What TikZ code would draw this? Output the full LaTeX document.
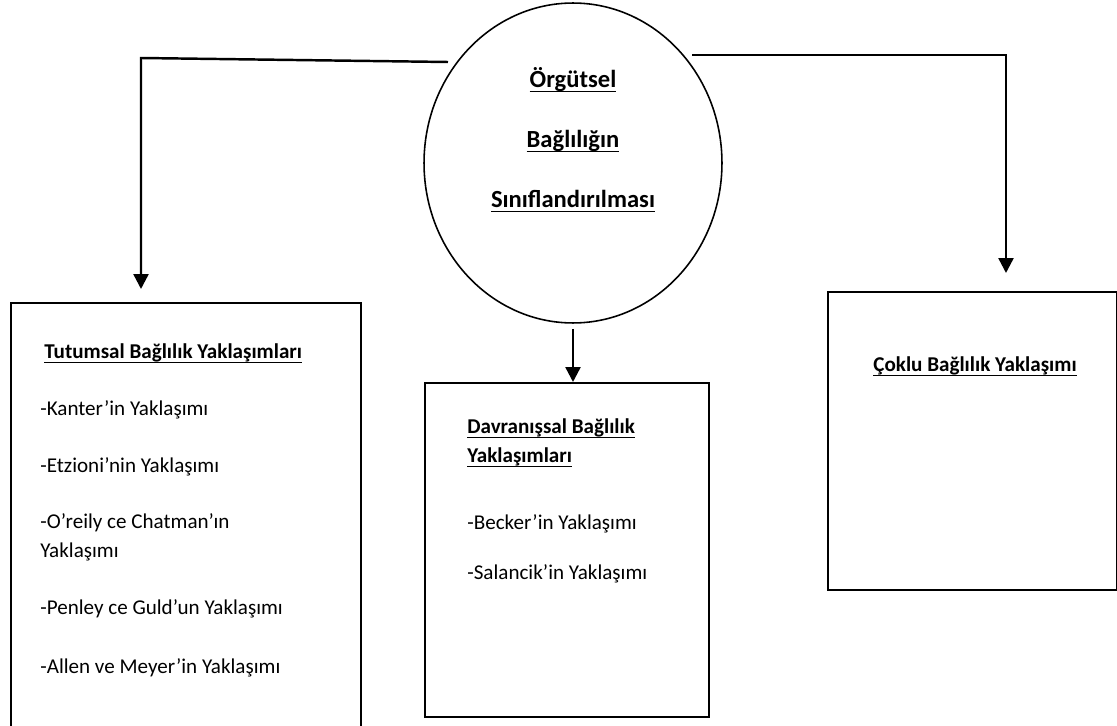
\documentclass[tikz,border=0pt]{standalone}
\usepackage{fontspec}
\setmainfont{Carlito}
\usetikzlibrary{shapes.geometric,arrows.meta,positioning,calc}

% underlined bold heading
\newcommand{\hd}[1]{\setbox0\hbox{\bfseries #1}\leavevmode\rlap{\vrule height -1.6pt depth 2.5pt width \wd0}\box0}

\begin{document}
\begin{tikzpicture}[x=0.02cm, y=-0.02cm,
    font=\fontsize{12}{17}\selectfont,
    box/.style={draw, line width=1.1pt, anchor=north west, inner sep=0pt},
    conn/.style={line width=1.4pt, -{Triangle[length=3mm, width=3mm]}},
    txt/.style={anchor=base west, inner sep=0pt},
    ctxt/.style={anchor=base, inner sep=0pt}]
    \useasboundingbox (0,0) rectangle (1117,726);

    % Classification circle
    \node[draw, ellipse, line width=0.9pt, minimum width=5.96cm, minimum height=6.4cm] (circ) at (573,163) {};
    \node[ctxt, font=\fontsize{14}{17}\selectfont] (c1) at (573,88) {\hd{Örgütsel}};
    \node[ctxt, font=\fontsize{14}{17}\selectfont] (c2) at (573,148) {\hd{Bağlılığın}};
    \node[ctxt, font=\fontsize{14}{17}\selectfont] (c3) at (573,208) {\hd{Sınıflandırılması}};

    % Boxes
    \node[box, minimum width=7cm, minimum height=8.76cm] (tbox) at (10,302) {};
    \node[box, minimum width=5.68cm, minimum height=6.68cm] (dbox) at (424,382) {};
    \node[box, minimum width=5.78cm, minimum height=5.96cm] (cbox) at (827,291) {};

    % Left box
    \node[txt] (th) at (44,359) {\hd{Tutumsal Bağlılık Yaklaşımları}};
    \node[txt] (t1) at (40,416) {-Kanter’in Yaklaşımı};
    \node[txt] (t2) at (40,473) {-Etzioni’nin Yaklaşımı};
    \node[txt] (t3) at (40,529) {-O’reily ce Chatman’ın};
    \node[txt] (t3b) at (40,558) {Yaklaşımı};
    \node[txt] (t4) at (40,615) {-Penley ce Guld’un Yaklaşımı};
    \node[txt] (t5) at (40,673) {-Allen ve Meyer’in Yaklaşımı};

    % Middle box
    \node[txt] (dh) at (467,434) {\hd{Davranışsal Bağlılık}};
    \node[txt] (dhb) at (467,463) {\hd{Yaklaşımları}};
    \node[txt] (d1) at (467,530) {-Becker’in Yaklaşımı};
    \node[txt] (d2) at (467,580) {-Salancik’in Yaklaşımı};

    % Right box
    \node[ctxt] (ch) at (975,372) {\hd{Çoklu Bağlılık Yaklaşımı}};

    % Connectors
    \coordinate (lstart) at (448,62);
    \coordinate (lbend) at (141,58);
    \coordinate (lend) at (141,289);
    \draw[conn] (lstart) -- (lbend) -- (lend);

    \coordinate (rstart) at (692,55);
    \coordinate (rend) at (1006,273);
    \draw[conn] (rstart) -| (rend);

    \draw[conn] ([yshift=-0.1cm]circ.south) -- (circ.south |- dbox.north);
\end{tikzpicture}
\end{document}
